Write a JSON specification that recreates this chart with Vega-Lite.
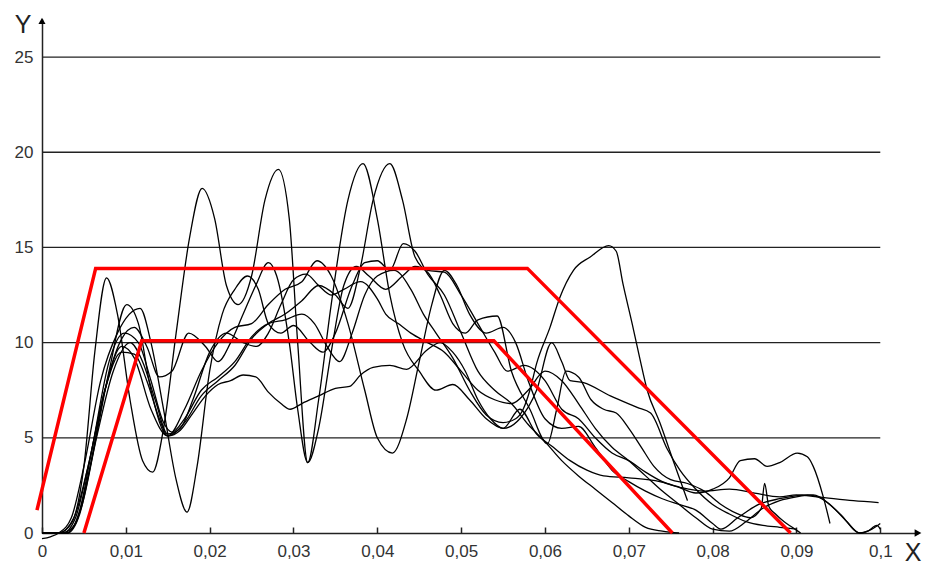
{
  "$schema": "https://vega.github.io/schema/vega-lite/v6.json",
  "width": 876,
  "height": 514,
  "autosize": "none",
  "padding": {"left": 42, "top": 19, "right": 7, "bottom": 33},
  "background": "white",
  "config": {"view": {"stroke": null}},
  "encoding": {
    "x": {"field": "x", "type": "quantitative",
      "scale": {"domain": [0, 0.1045], "nice": false, "zero": false},
      "axis": {"values": [0, 0.01, 0.02, 0.03, 0.04, 0.05, 0.06, 0.07, 0.08, 0.09, 0.1],
        "labelExpr": "replace(format(datum.value, '.2~f'), '.', ',')",
        "grid": false, "domainColor": "#222", "domainWidth": 1.5,
        "tickColor": "#222", "tickWidth": 1.5, "tickSize": -6, "labelPadding": 16,
        "labelFontSize": 17, "labelColor": "#333", "labelFont": "Liberation Sans",
        "labelFlush": false, "labelOverlap": false, "title": null}},
    "y": {"field": "y", "type": "quantitative",
      "scale": {"domain": [0, 27], "nice": false, "zero": false},
      "axis": {"values": [0, 5, 10, 15, 20, 25], "grid": false, "ticks": false,
        "domainColor": "#222", "domainWidth": 1.5, "labelPadding": 9,
        "labelFontSize": 17, "labelColor": "#333", "labelFont": "Liberation Sans", "labelFlush": false,
        "title": null}}
  },
  "layer": [
    {
      "data": {"values": [
        {"x": 0, "x2": 0.1, "y": 5}, {"x": 0, "x2": 0.1, "y": 10}, {"x": 0, "x2": 0.1, "y": 15},
        {"x": 0, "x2": 0.1, "y": 20}, {"x": 0, "x2": 0.1, "y": 25}]},
      "mark": {"type": "rule", "color": "#222", "strokeWidth": 1.3},
      "encoding": {"x2": {"field": "x2"}}
    },
    {
      "data": {"values": [
{"s":"Y","x":0,"y":0},{"s":"Y","x":0.002,"y":0},{"s":"Y","x":0.0035,"y":0.5},{"s":"Y","x":0.005,"y":3.5},{"s":"Y","x":0.0063,"y":9.5},{"s":"Y","x":0.0077,"y":13.4},{"s":"Y","x":0.009,"y":11.5},{"s":"Y","x":0.0105,"y":7},{"s":"Y","x":0.012,"y":3.8},{"s":"Y","x":0.0132,"y":3.2},{"s":"Y","x":0.0145,"y":5.5},{"s":"Y","x":0.016,"y":10.5},{"s":"Y","x":0.0176,"y":15.5},{"s":"Y","x":0.0191,"y":18.1},{"s":"Y","x":0.0206,"y":16.5},{"s":"Y","x":0.022,"y":13},{"s":"Y","x":0.0234,"y":12},{"s":"Y","x":0.025,"y":13.5},{"s":"Y","x":0.0266,"y":17.5},{"s":"Y","x":0.0282,"y":19.1},{"s":"Y","x":0.0295,"y":16.5},{"s":"Y","x":0.0305,"y":10},{"s":"Y","x":0.0317,"y":3.7},{"s":"Y","x":0.033,"y":7},{"s":"Y","x":0.0345,"y":12},{"s":"Y","x":0.0365,"y":17.5},{"s":"Y","x":0.0383,"y":19.4},{"s":"Y","x":0.04,"y":16.5},{"s":"Y","x":0.0415,"y":12.5},{"s":"Y","x":0.043,"y":10},{"s":"Y","x":0.045,"y":8.5},{"s":"Y","x":0.047,"y":7.5},{"s":"Y","x":0.049,"y":7.8},{"s":"Y","x":0.051,"y":7},{"s":"Y","x":0.053,"y":6},{"s":"Y","x":0.055,"y":5.5},{"s":"Y","x":0.057,"y":6.5},{"s":"Y","x":0.059,"y":5.2},{"s":"Y","x":0.061,"y":4.5},{"s":"Y","x":0.063,"y":3.8},{"s":"Y","x":0.065,"y":3.3},{"s":"Y","x":0.067,"y":3},{"s":"Y","x":0.07,"y":2.9},{"s":"Y","x":0.0737,"y":2.7},{"s":"Y","x":0.0761,"y":2.4},{"s":"Y","x":0.079,"y":2.2},{"s":"Y","x":0.082,"y":2.3},{"s":"Y","x":0.085,"y":2.1},{"s":"Y","x":0.088,"y":1.9},{"s":"Y","x":0.09,"y":2},{"s":"Y","x":0.0925,"y":1.9},{"s":"Y","x":0.0968,"y":1.7},{"s":"Y","x":0.0998,"y":1.6},
{"s":"Z","x":0,"y":0},{"s":"Z","x":0.0025,"y":0},{"s":"Z","x":0.004,"y":0.8},{"s":"Z","x":0.0055,"y":3.5},{"s":"Z","x":0.0075,"y":7.5},{"s":"Z","x":0.0095,"y":9.8},{"s":"Z","x":0.011,"y":9.2},{"s":"Z","x":0.013,"y":6.5},{"s":"Z","x":0.015,"y":5.1},{"s":"Z","x":0.017,"y":5.8},{"s":"Z","x":0.019,"y":7.2},{"s":"Z","x":0.021,"y":8},{"s":"Z","x":0.023,"y":8.8},{"s":"Z","x":0.025,"y":10.2},{"s":"Z","x":0.027,"y":11},{"s":"Z","x":0.029,"y":11.5},{"s":"Z","x":0.031,"y":12.2},{"s":"Z","x":0.033,"y":13},{"s":"Z","x":0.035,"y":12.5},{"s":"Z","x":0.0365,"y":11.8},{"s":"Z","x":0.038,"y":14},{"s":"Z","x":0.0395,"y":17.5},{"s":"Z","x":0.0415,"y":19.4},{"s":"Z","x":0.043,"y":17.5},{"s":"Z","x":0.0445,"y":14.5},{"s":"Z","x":0.046,"y":13.8},{"s":"Z","x":0.048,"y":13.7},{"s":"Z","x":0.05,"y":12.5},{"s":"Z","x":0.052,"y":11},{"s":"Z","x":0.054,"y":9.5},{"s":"Z","x":0.0555,"y":8.5},{"s":"Z","x":0.0575,"y":8.8},{"s":"Z","x":0.06,"y":8},{"s":"Z","x":0.062,"y":6.5},{"s":"Z","x":0.064,"y":6},{"s":"Z","x":0.066,"y":5},{"s":"Z","x":0.068,"y":4.2},{"s":"Z","x":0.07,"y":3.8},{"s":"Z","x":0.072,"y":3.2},{"s":"Z","x":0.074,"y":2.7},{"s":"Z","x":0.076,"y":2.4},{"s":"Z","x":0.078,"y":2.1},{"s":"Z","x":0.08,"y":2.3},{"s":"Z","x":0.082,"y":2.9},{"s":"Z","x":0.0833,"y":3.8},{"s":"Z","x":0.085,"y":3.9},{"s":"Z","x":0.0865,"y":3.5},{"s":"Z","x":0.088,"y":3.7},{"s":"Z","x":0.0901,"y":4.2},{"s":"Z","x":0.0913,"y":4},{"s":"Z","x":0.092,"y":3.5},{"s":"Z","x":0.0932,"y":1.9},{"s":"Z","x":0.094,"y":0.5},
{"s":"P","x":0,"y":0},{"s":"P","x":0.003,"y":0},{"s":"P","x":0.0045,"y":1.2},{"s":"P","x":0.006,"y":4.5},{"s":"P","x":0.008,"y":9},{"s":"P","x":0.0098,"y":10.5},{"s":"P","x":0.0115,"y":10},{"s":"P","x":0.013,"y":8},{"s":"P","x":0.0145,"y":5.8},{"s":"P","x":0.0155,"y":5.3},{"s":"P","x":0.017,"y":6},{"s":"P","x":0.019,"y":7.5},{"s":"P","x":0.021,"y":8.2},{"s":"P","x":0.023,"y":9},{"s":"P","x":0.025,"y":10.3},{"s":"P","x":0.027,"y":11},{"s":"P","x":0.029,"y":11.2},{"s":"P","x":0.031,"y":11.5},{"s":"P","x":0.0325,"y":11},{"s":"P","x":0.034,"y":9.8},{"s":"P","x":0.0355,"y":9},{"s":"P","x":0.037,"y":10.5},{"s":"P","x":0.0385,"y":12.5},{"s":"P","x":0.04,"y":13.5},{"s":"P","x":0.042,"y":13.8},{"s":"P","x":0.044,"y":12.8},{"s":"P","x":0.0455,"y":11.5},{"s":"P","x":0.047,"y":10.5},{"s":"P","x":0.049,"y":9.2},{"s":"P","x":0.051,"y":7.5},{"s":"P","x":0.053,"y":6.2},{"s":"P","x":0.055,"y":5.8},{"s":"P","x":0.0565,"y":6},{"s":"P","x":0.0574,"y":6.5},{"s":"P","x":0.0582,"y":7.5},{"s":"P","x":0.059,"y":8.9},{"s":"P","x":0.0606,"y":10.8},{"s":"P","x":0.0618,"y":12.4},{"s":"P","x":0.0634,"y":13.8},{"s":"P","x":0.0654,"y":14.5},{"s":"P","x":0.0676,"y":15.1},{"s":"P","x":0.0685,"y":14.8},{"s":"P","x":0.0693,"y":13.1},{"s":"P","x":0.0704,"y":11},{"s":"P","x":0.0713,"y":9.2},{"s":"P","x":0.0722,"y":7.5},{"s":"P","x":0.0737,"y":5.8},{"s":"P","x":0.0753,"y":3.8},{"s":"P","x":0.077,"y":1.7},
{"s":"V","x":0,"y":0},{"s":"V","x":0.003,"y":0},{"s":"V","x":0.0045,"y":1},{"s":"V","x":0.006,"y":4},{"s":"V","x":0.008,"y":8.5},{"s":"V","x":0.0101,"y":12},{"s":"V","x":0.0115,"y":11},{"s":"V","x":0.013,"y":7.5},{"s":"V","x":0.015,"y":5.1},{"s":"V","x":0.017,"y":6.5},{"s":"V","x":0.019,"y":8.5},{"s":"V","x":0.021,"y":10},{"s":"V","x":0.023,"y":10.8},{"s":"V","x":0.025,"y":11},{"s":"V","x":0.027,"y":12},{"s":"V","x":0.029,"y":12.8},{"s":"V","x":0.031,"y":13.2},{"s":"V","x":0.0328,"y":14.3},{"s":"V","x":0.0345,"y":13.5},{"s":"V","x":0.0365,"y":11},{"s":"V","x":0.0385,"y":7.5},{"s":"V","x":0.04,"y":5},{"s":"V","x":0.0418,"y":4.2},{"s":"V","x":0.0435,"y":6},{"s":"V","x":0.045,"y":9},{"s":"V","x":0.0465,"y":12},{"s":"V","x":0.048,"y":13.8},{"s":"V","x":0.0495,"y":13},{"s":"V","x":0.051,"y":11.5},{"s":"V","x":0.053,"y":10.5},{"s":"V","x":0.055,"y":10.8},{"s":"V","x":0.0565,"y":10},{"s":"V","x":0.058,"y":8},{"s":"V","x":0.06,"y":6},{"s":"V","x":0.062,"y":5.5},{"s":"V","x":0.064,"y":5.6},{"s":"V","x":0.066,"y":4.5},{"s":"V","x":0.068,"y":3.3},{"s":"V","x":0.07,"y":2.7},{"s":"V","x":0.072,"y":2.2},{"s":"V","x":0.074,"y":1.8},{"s":"V","x":0.076,"y":1.5},{"s":"V","x":0.078,"y":1.2},{"s":"V","x":0.08,"y":0.5},{"s":"V","x":0.081,"y":0.2},{"s":"V","x":0.083,"y":0.8},{"s":"V","x":0.0855,"y":1.5},{"s":"V","x":0.088,"y":1.8},{"s":"V","x":0.0913,"y":2},{"s":"V","x":0.093,"y":1.8},{"s":"V","x":0.0952,"y":1},{"s":"V","x":0.0976,"y":0},{"s":"V","x":0.0985,"y":0.1},{"s":"V","x":0.0996,"y":0.4},{"s":"V","x":0.1,"y":0.2},
{"s":"X","x":0,"y":-0.3},{"s":"X","x":0.001,"y":-0.2},{"s":"X","x":0.002,"y":0},{"s":"X","x":0.0035,"y":0.8},{"s":"X","x":0.005,"y":3.5},{"s":"X","x":0.007,"y":8},{"s":"X","x":0.009,"y":10.5},{"s":"X","x":0.0117,"y":11.8},{"s":"X","x":0.013,"y":10},{"s":"X","x":0.0145,"y":6.5},{"s":"X","x":0.016,"y":2.8},{"s":"X","x":0.0173,"y":1.1},{"s":"X","x":0.0185,"y":3.5},{"s":"X","x":0.02,"y":8.5},{"s":"X","x":0.0215,"y":11.5},{"s":"X","x":0.023,"y":12.8},{"s":"X","x":0.0245,"y":13.5},{"s":"X","x":0.0258,"y":12.8},{"s":"X","x":0.027,"y":11},{"s":"X","x":0.0285,"y":10.5},{"s":"X","x":0.03,"y":10.9},{"s":"X","x":0.032,"y":10},{"s":"X","x":0.0335,"y":9.5},{"s":"X","x":0.035,"y":10.5},{"s":"X","x":0.037,"y":13},{"s":"X","x":0.0385,"y":14.2},{"s":"X","x":0.04,"y":14.3},{"s":"X","x":0.0415,"y":13.8},{"s":"X","x":0.0431,"y":15.2},{"s":"X","x":0.0445,"y":14.8},{"s":"X","x":0.046,"y":13.6},{"s":"X","x":0.048,"y":12.5},{"s":"X","x":0.05,"y":10.5},{"s":"X","x":0.052,"y":8.5},{"s":"X","x":0.054,"y":7.5},{"s":"X","x":0.056,"y":6.8},{"s":"X","x":0.058,"y":5.7},{"s":"X","x":0.06,"y":4.8},{"s":"X","x":0.062,"y":3.8},{"s":"X","x":0.064,"y":3},{"s":"X","x":0.066,"y":2.3},{"s":"X","x":0.068,"y":1.6},{"s":"X","x":0.07,"y":0.9},{"s":"X","x":0.072,"y":0.3},{"s":"X","x":0.074,"y":0.1},{"s":"X","x":0.076,"y":0},
{"s":"W","x":0,"y":0},{"s":"W","x":0.0025,"y":0},{"s":"W","x":0.004,"y":0.5},{"s":"W","x":0.0055,"y":3},{"s":"W","x":0.0075,"y":7.5},{"s":"W","x":0.0095,"y":10.2},{"s":"W","x":0.011,"y":10.8},{"s":"W","x":0.0125,"y":9.8},{"s":"W","x":0.014,"y":8.2},{"s":"W","x":0.0155,"y":8.5},{"s":"W","x":0.0175,"y":10.5},{"s":"W","x":0.0195,"y":9.8},{"s":"W","x":0.021,"y":9},{"s":"W","x":0.0225,"y":10},{"s":"W","x":0.024,"y":11.5},{"s":"W","x":0.0255,"y":13},{"s":"W","x":0.027,"y":14.2},{"s":"W","x":0.028,"y":13.5},{"s":"W","x":0.0295,"y":10},{"s":"W","x":0.0305,"y":6.5},{"s":"W","x":0.0317,"y":3.7},{"s":"W","x":0.033,"y":5.5},{"s":"W","x":0.0345,"y":9.5},{"s":"W","x":0.036,"y":13},{"s":"W","x":0.0375,"y":14},{"s":"W","x":0.039,"y":13.5},{"s":"W","x":0.041,"y":12.8},{"s":"W","x":0.043,"y":13.5},{"s":"W","x":0.0445,"y":14},{"s":"W","x":0.046,"y":13.7},{"s":"W","x":0.0475,"y":12.5},{"s":"W","x":0.049,"y":11},{"s":"W","x":0.0505,"y":10.5},{"s":"W","x":0.052,"y":11.2},{"s":"W","x":0.0543,"y":11.4},{"s":"W","x":0.056,"y":8.5},{"s":"W","x":0.0582,"y":6.5},{"s":"W","x":0.0603,"y":4.7},{"s":"W","x":0.0614,"y":6.5},{"s":"W","x":0.0625,"y":8.5},{"s":"W","x":0.064,"y":8.2},{"s":"W","x":0.0655,"y":7},{"s":"W","x":0.067,"y":6.5},{"s":"W","x":0.0685,"y":6.3},{"s":"W","x":0.07,"y":5.5},{"s":"W","x":0.0715,"y":4.5},{"s":"W","x":0.073,"y":3.5},{"s":"W","x":0.075,"y":2.8},{"s":"W","x":0.077,"y":2.6},{"s":"W","x":0.079,"y":2.2},{"s":"W","x":0.081,"y":1.5},{"s":"W","x":0.083,"y":1},{"s":"W","x":0.0845,"y":0.8},{"s":"W","x":0.0858,"y":1.3},{"s":"W","x":0.0862,"y":2.6},{"s":"W","x":0.0867,"y":1.4},{"s":"W","x":0.0875,"y":1},{"s":"W","x":0.0885,"y":0.6},{"s":"W","x":0.0895,"y":0.3},{"s":"W","x":0.0905,"y":0},
{"s":"U","x":0,"y":0},{"s":"U","x":0.002,"y":0},{"s":"U","x":0.0038,"y":0.8},{"s":"U","x":0.0055,"y":3.5},{"s":"U","x":0.0075,"y":7.5},{"s":"U","x":0.0095,"y":9.5},{"s":"U","x":0.011,"y":9.4},{"s":"U","x":0.0125,"y":8},{"s":"U","x":0.014,"y":6},{"s":"U","x":0.015,"y":5.1},{"s":"U","x":0.0165,"y":5.4},{"s":"U","x":0.018,"y":6.3},{"s":"U","x":0.0195,"y":7.2},{"s":"U","x":0.021,"y":7.8},{"s":"U","x":0.0225,"y":8},{"s":"U","x":0.024,"y":8.3},{"s":"U","x":0.0255,"y":8.2},{"s":"U","x":0.027,"y":7.4},{"s":"U","x":0.0285,"y":6.8},{"s":"U","x":0.0296,"y":6.5},{"s":"U","x":0.031,"y":6.8},{"s":"U","x":0.033,"y":7.2},{"s":"U","x":0.035,"y":7.6},{"s":"U","x":0.0367,"y":7.7},{"s":"U","x":0.038,"y":8.3},{"s":"U","x":0.0395,"y":8.7},{"s":"U","x":0.0415,"y":8.8},{"s":"U","x":0.0435,"y":8.6},{"s":"U","x":0.0459,"y":9.6},{"s":"U","x":0.0475,"y":10},{"s":"U","x":0.049,"y":9.5},{"s":"U","x":0.0505,"y":8.5},{"s":"U","x":0.052,"y":7},{"s":"U","x":0.0535,"y":6},{"s":"U","x":0.055,"y":5.5},{"s":"U","x":0.057,"y":6},{"s":"U","x":0.059,"y":7.5},{"s":"U","x":0.0608,"y":10},{"s":"U","x":0.062,"y":9},{"s":"U","x":0.063,"y":8},{"s":"U","x":0.0646,"y":7.9},{"s":"U","x":0.0678,"y":7.2},{"s":"U","x":0.071,"y":6.6},{"s":"U","x":0.0726,"y":6.3},{"s":"U","x":0.0746,"y":4.4},{"s":"U","x":0.0761,"y":3.3},{"s":"U","x":0.078,"y":2.3},{"s":"U","x":0.08,"y":1.5},{"s":"U","x":0.082,"y":1},{"s":"U","x":0.084,"y":0.6},{"s":"U","x":0.086,"y":0.4},{"s":"U","x":0.088,"y":0.3},{"s":"U","x":0.09,"y":0.2},
{"s":"T","x":0,"y":0},{"s":"T","x":0.003,"y":0},{"s":"T","x":0.0048,"y":1.5},{"s":"T","x":0.0065,"y":5},{"s":"T","x":0.0085,"y":8.5},{"s":"T","x":0.0105,"y":10},{"s":"T","x":0.012,"y":9},{"s":"T","x":0.0135,"y":7},{"s":"T","x":0.015,"y":5.2},{"s":"T","x":0.0165,"y":5.5},{"s":"T","x":0.018,"y":7},{"s":"T","x":0.02,"y":9.5},{"s":"T","x":0.022,"y":10.5},{"s":"T","x":0.024,"y":10},{"s":"T","x":0.0256,"y":9.8},{"s":"T","x":0.027,"y":10.5},{"s":"T","x":0.0285,"y":12},{"s":"T","x":0.03,"y":13.3},{"s":"T","x":0.0315,"y":13.6},{"s":"T","x":0.033,"y":13},{"s":"T","x":0.0345,"y":12.5},{"s":"T","x":0.036,"y":12.8},{"s":"T","x":0.038,"y":13.2},{"s":"T","x":0.04,"y":12.3},{"s":"T","x":0.041,"y":11.5},{"s":"T","x":0.0425,"y":11},{"s":"T","x":0.044,"y":10.5},{"s":"T","x":0.046,"y":10},{"s":"T","x":0.048,"y":9.5},{"s":"T","x":0.05,"y":8.5},{"s":"T","x":0.052,"y":7.5},{"s":"T","x":0.054,"y":7},{"s":"T","x":0.056,"y":6.8},{"s":"T","x":0.058,"y":7.5},{"s":"T","x":0.06,"y":8.5},{"s":"T","x":0.062,"y":8},{"s":"T","x":0.064,"y":6.8},{"s":"T","x":0.066,"y":5.5},{"s":"T","x":0.068,"y":4.5},{"s":"T","x":0.07,"y":3.8},{"s":"T","x":0.072,"y":3},{"s":"T","x":0.074,"y":2.2},{"s":"T","x":0.076,"y":1.5},{"s":"T","x":0.078,"y":0.8},{"s":"T","x":0.08,"y":0.2},{"s":"T","x":0.082,"y":0.1},{"s":"T","x":0.084,"y":0.6},{"s":"T","x":0.086,"y":1.3},{"s":"T","x":0.088,"y":1.7},{"s":"T","x":0.09,"y":1.9},{"s":"T","x":0.092,"y":2},{"s":"T","x":0.094,"y":1.5},{"s":"T","x":0.096,"y":0.6},{"s":"T","x":0.0975,"y":0},{"s":"T","x":0.099,"y":0.2},{"s":"T","x":0.1,"y":0.5}
      ]},
      "mark": {"type": "line", "interpolate": "monotone", "color": "black", "strokeWidth": 1.3},
      "encoding": {"detail": {"field": "s"}}
    },
    {
      "data": {"values": [
        {"s": "outer", "x": -0.0006, "y": 1.2}, {"s": "outer", "x": 0.0064, "y": 13.9},
        {"s": "outer", "x": 0.0579, "y": 13.9}, {"s": "outer", "x": 0.0893, "y": 0},
        {"s": "inner", "x": 0.005, "y": 0}, {"s": "inner", "x": 0.0119, "y": 10.1},
        {"s": "inner", "x": 0.0539, "y": 10.1}, {"s": "inner", "x": 0.0752, "y": 0}]},
      "mark": {"type": "line", "color": "#ff0000", "strokeWidth": 3.5},
      "encoding": {"detail": {"field": "s"}, "order": {"field": "x"}}
    },
    {
      "data": {"values": [{"x": 0, "y": 26.9}]},
      "mark": {"type": "point", "shape": "triangle-up", "filled": true, "color": "black", "size": 50, "opacity": 1}
    },
    {
      "data": {"values": [{"x": 0.1045, "y": 0}]},
      "mark": {"type": "point", "shape": "triangle-right", "filled": true, "color": "black", "size": 60, "opacity": 1}
    },
    {
      "data": {"values": [{"x": 0, "y": 26.9, "t": "Y"}]},
      "mark": {"type": "text", "font": "Liberation Sans", "fontSize": 25, "color": "#222", "dx": -19, "dy": 4, "align": "center", "baseline": "middle"},
      "encoding": {"text": {"field": "t"}}
    },
    {
      "data": {"values": [{"x": 0.1045, "y": 0, "t": "X"}]},
      "mark": {"type": "text", "font": "Liberation Sans", "fontSize": 25, "color": "#222", "dx": -5, "dy": 20, "align": "center", "baseline": "middle"},
      "encoding": {"text": {"field": "t"}}
    }
  ]
}
